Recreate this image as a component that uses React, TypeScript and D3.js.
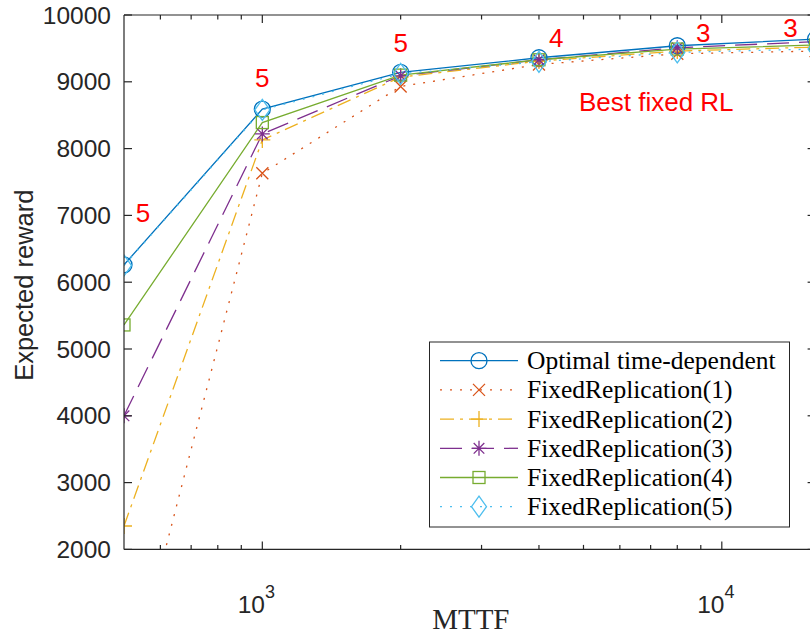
import React from 'react';
import * as d3 from 'd3';

const mttf = [500, 1000, 2000, 4000, 8000, 16000];
const optimal = [6260, 8590, 9140, 9360, 9540, 9640];
const fixed1 = [-400, 7630, 8930, 9260, 9420, 9460];
const fixed2 = [2350, 8130, 9070, 9310, 9460, 9520];
const fixed3 = [4000, 8220, 9090, 9330, 9510, 9600];
const fixed4 = [5360, 8390, 9100, 9330, 9490, 9550];
const fixed5 = [6250, 8580, 9120, 9300, 9440, 9490];
const seriesNames = [
  'Optimal time-dependent',
  'FixedReplication(1)',
  'FixedReplication(2)',
  'FixedReplication(3)',
  'FixedReplication(4)',
  'FixedReplication(5)',
];
const yTicks = [2000, 3000, 4000, 5000, 6000, 7000, 8000, 9000, 10000];
const xMajorTicks = [1000, 10000];
const xMinorTicks = [600, 700, 800, 900, 2000, 3000, 4000, 5000, 6000, 7000, 8000, 9000];
const annoX = [550, 1000, 2000, 4360, 9110, 14100, 7200];
const annoY = [7040, 9060, 9580, 9660, 9730, 9805, 8700];
const annoText = ['5', '5', '5', '4', '3', '3', 'Best fixed RL'];

const colors = ['#0072BD', '#D95319', '#EDB120', '#7E2F8E', '#77AC30', '#4DBEEE'];
const dashes = ['none', '2 8', '14 6 3 6', '22 10', 'none', '2 8'];
const markers = ['circle', 'x', 'plus', 'star', 'square', 'diamond'];
const allSeries = [optimal, fixed1, fixed2, fixed3, fixed4, fixed5];

const W = 810;
const H = 637;
const left = 124;
const right = 815.6;
const top = 15;
const bottom = 549.4;
const axisColor = '#262626';

function Marker({ kind, x, y, color }: { kind: string; x: number; y: number; color: string }) {
  const sw = 1.3;
  if (kind === 'circle') return <circle cx={x} cy={y} r={8} fill="none" stroke={color} strokeWidth={sw} />;
  if (kind === 'square')
    return <rect x={x - 6} y={y - 6} width={12} height={12} fill="none" stroke={color} strokeWidth={sw} />;
  if (kind === 'diamond')
    return (
      <path
        d={`M${x},${y - 10.5}L${x + 7.5},${y}L${x},${y + 10.5}L${x - 7.5},${y}Z`}
        fill="none"
        stroke={color}
        strokeWidth={sw}
      />
    );
  if (kind === 'x')
    return (
      <path d={`M${x - 6},${y - 6}L${x + 6},${y + 6}M${x - 6},${y + 6}L${x + 6},${y - 6}`} stroke={color} strokeWidth={sw} />
    );
  if (kind === 'plus')
    return <path d={`M${x - 8},${y}L${x + 8},${y}M${x},${y - 8}L${x},${y + 8}`} stroke={color} strokeWidth={sw} />;
  // star
  return (
    <path
      d={`M${x - 7.5},${y}L${x + 7.5},${y}M${x},${y - 7.5}L${x},${y + 7.5}M${x - 5.3},${y - 5.3}L${x + 5.3},${y + 5.3}M${x - 5.3},${y + 5.3}L${x + 5.3},${y - 5.3}`}
      stroke={color}
      strokeWidth={sw}
    />
  );
}

export default function App() {
  const xScale = d3.scaleLog().domain([500, 16000]).range([left, right]);
  const yScale = d3.scaleLinear().domain([2000, 10000]).range([bottom, top]);
  const line = d3
    .line<number>()
    .x((_, i) => xScale(mttf[i]))
    .y((d) => yScale(d));

  const legX = 429.5;
  const legY = 342;
  const legW = 360;
  const legH = 185;
  const rowY = (i: number) => legY + 18.7 + i * 29.2;

  return (
    <svg
      width={W}
      height={H}
      style={{ position: 'absolute', left: 0, top: 0, background: '#fff' }}
      fontFamily="'Liberation Sans', Arial, sans-serif"
    >
      <defs>
        <clipPath id="plotClip">
          <rect x={left} y={top} width={right - left} height={bottom - top} />
        </clipPath>
      </defs>
      <rect x={0} y={0} width={W} height={H} fill="#fff" />

      {/* series */}
      <g clipPath="url(#plotClip)">
        {allSeries.map((s, k) => (
          <path
            key={'l' + k}
            d={line(s) || ''}
            fill="none"
            stroke={colors[k]}
            strokeWidth={1.3}
            strokeDasharray={dashes[k]}
          />
        ))}
        {allSeries.map((s, k) =>
          s.map((v, i) => (
            <Marker key={`m${k}-${i}`} kind={markers[k]} x={xScale(mttf[i])} y={yScale(v)} color={colors[k]} />
          ))
        )}
      </g>

      {/* axes box */}
      <g stroke={axisColor} strokeWidth={1.2} fill="none">
        <line x1={left} y1={bottom} x2={right} y2={bottom} />
        <line x1={left} y1={top} x2={right} y2={top} />
        <line x1={left} y1={top} x2={left} y2={bottom} />
        <line x1={right} y1={top} x2={right} y2={bottom} />
        {yTicks.map((t) => (
          <g key={'yt' + t}>
            <line x1={left} x2={left + 8} y1={yScale(t)} y2={yScale(t)} />
            <line x1={right} x2={right - 8} y1={yScale(t)} y2={yScale(t)} />
          </g>
        ))}
        {xMajorTicks.map((t) => (
          <g key={'xt' + t}>
            <line x1={xScale(t)} x2={xScale(t)} y1={bottom} y2={bottom - 8} />
            <line x1={xScale(t)} x2={xScale(t)} y1={top} y2={top + 8} />
          </g>
        ))}
        {xMinorTicks.map((t) => (
          <g key={'xm' + t}>
            <line x1={xScale(t)} x2={xScale(t)} y1={bottom} y2={bottom - 4.5} />
            <line x1={xScale(t)} x2={xScale(t)} y1={top} y2={top + 4.5} />
          </g>
        ))}
      </g>

      {/* y tick labels */}
      {yTicks.map((t) => (
        <text
          key={'yl' + t}
          x={left - 13}
          y={yScale(t)}
          textAnchor="end"
          dominantBaseline="central"
          fontSize={24.5}
          fill={axisColor}
        >
          {t}
        </text>
      ))}
      {/* x tick labels */}
      {xMajorTicks.map((t) => (
        <text key={'xl' + t} x={xScale(t) - 6} y={613} textAnchor="middle" fontSize={24.5} fill={axisColor}>
          10
          <tspan dy={-15} fontSize={18}>
            {Math.round(Math.log10(t))}
          </tspan>
        </text>
      ))}

      {/* axis titles */}
      <text
        transform={`translate(33, ${(top + bottom) / 2 + 3}) rotate(-90)`}
        textAnchor="middle"
        fontSize={25.5}
        fill={axisColor}
      >
        Expected reward
      </text>
      <text
        x={(left + right) / 2 + 1}
        y={629}
        textAnchor="middle"
        fontSize={29}
        fontFamily="'Liberation Serif', 'Times New Roman', serif"
        fill={axisColor}
      >
        MTTF
      </text>

      {/* annotations */}
      {annoText.map((t, i) => (
        <text
          key={'an' + i}
          x={xScale(annoX[i])}
          y={yScale(annoY[i])}
          textAnchor="middle"
          dominantBaseline="central"
          fontSize={26}
          fill="#FF0000"
        >
          {t}
        </text>
      ))}

      {/* legend */}
      <rect x={legX} y={legY} width={legW} height={legH} fill="#fff" stroke={axisColor} strokeWidth={1} />
      {seriesNames.map((name, k) => (
        <g key={'lg' + k}>
          <line
            x1={440}
            x2={518}
            y1={rowY(k)}
            y2={rowY(k)}
            stroke={colors[k]}
            strokeWidth={1.3}
            strokeDasharray={dashes[k]}
          />
          <Marker kind={markers[k]} x={479} y={rowY(k)} color={colors[k]} />
          <text
            x={527}
            y={rowY(k)}
            dominantBaseline="central"
            fontSize={25.5}
            fontFamily="'Liberation Serif', 'Times New Roman', serif"
            fill="#000"
          >
            {name}
          </text>
        </g>
      ))}
    </svg>
  );
}
